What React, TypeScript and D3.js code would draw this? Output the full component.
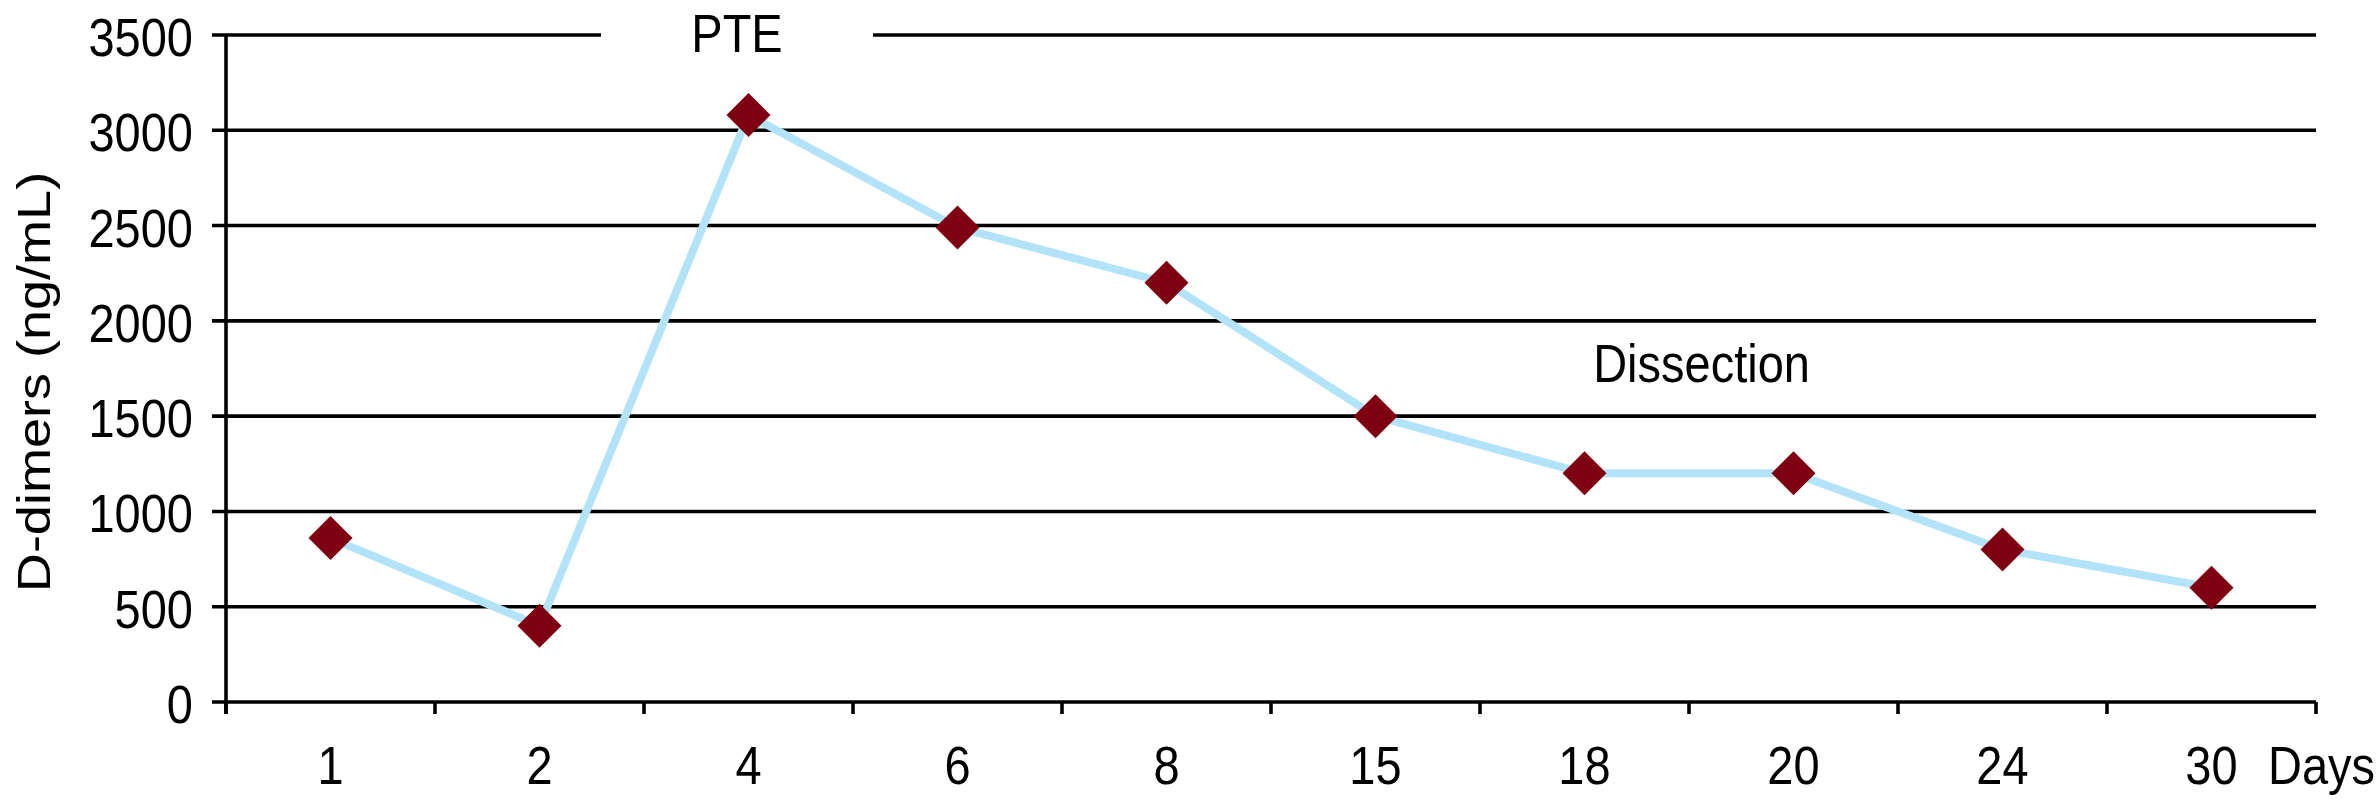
import React from "react";
import * as d3 from "d3";

const categories = ["1", "2", "4", "6", "8", "15", "18", "20", "24", "30"];
const dDimers = [860, 400, 3080, 2490, 2200, 1500, 1200, 1200, 800, 600];
const yTicks = [0, 500, 1000, 1500, 2000, 2500, 3000, 3500];
const yTitle = "D-dimers (ng/mL)";
const xUnit = "Days";
const annotations = [
  { text: "PTE", cat: "4", value: 3500, dx: -0.055 },
  { text: "Dissection", cat: "18", value: 1770, dx: 0.56 },
];

const W = 2377;
const H = 802;
const left = 226;
const right = 2316;
const top = 35;
const bottom = 702;
const FONT = "'Liberation Sans', Arial, Helvetica, sans-serif";
const FS = 47;
const SY = 1.15;

export default function App() {
  const x = d3.scaleBand<string>().domain(categories).range([left, right]).padding(0);
  const y = d3.scaleLinear().domain([0, 3500]).range([bottom, top]);
  const cx = (c: string) => (x(c) as number) + x.bandwidth() / 2;

  const line = d3
    .line<number>()
    .x((_, i) => cx(categories[i]))
    .y((d) => y(d));

  const r = 22;
  const diamond = d3.symbol().type(d3.symbolDiamond2).size(Math.pow(r / 0.62625, 2))();

  const boundaries = d3.range(categories.length + 1).map((i) => left + i * x.bandwidth());

  const pte = annotations[0];
  const pteX = cx(pte.cat) + pte.dx * x.bandwidth();
  const gapHalf = 136;

  const txt = (
    key: string,
    tx: number,
    ty: number,
    s: string,
    anchor: "start" | "middle" | "end",
    rotate = false
  ) => (
    <text
      key={key}
      transform={`translate(${tx},${ty}) scale(1,${SY})${rotate ? " rotate(-90)" : ""}`}
      textAnchor={anchor}
      fontFamily={FONT}
      fontSize={FS}
      fill="#000"
    >
      {s}
    </text>
  );

  return (
    <svg
      width={W}
      height={H}
      style={{ position: "absolute", left: 0, top: 0, background: "#fff" }}
    >
      <rect x={0} y={0} width={W} height={H} fill="#fff" />
      {yTicks.map((t) =>
        t === 3500 ? (
          <g key={t}>
            <line x1={left - 14} x2={pteX - gapHalf} y1={y(t)} y2={y(t)} stroke="#000" strokeWidth={3.6} />
            <line x1={pteX + gapHalf} x2={right} y1={y(t)} y2={y(t)} stroke="#000" strokeWidth={3.6} />
          </g>
        ) : (
          <line key={t} x1={left - 14} x2={right} y1={y(t)} y2={y(t)} stroke="#000" strokeWidth={3.6} />
        )
      )}
      <line x1={left} x2={left} y1={y(3500)} y2={bottom + 12} stroke="#000" strokeWidth={3.6} />
      {boundaries.map((b, i) => (
        <line key={i} x1={b} x2={b} y1={bottom} y2={bottom + 12} stroke="#000" strokeWidth={3.6} />
      ))}
      {yTicks.map((t) => txt("y" + t, left - 33, y(t) + 21, String(t), "end"))}
      {categories.map((c) => txt("x" + c, cx(c), 784, c, "middle"))}
      {txt("unit", 2268, 784, xUnit, "start")}
      {txt("ytitle", 50, 382, yTitle, "middle", true)}
      <path d={line(dDimers) || ""} fill="none" stroke="#b3e3f8" strokeWidth={8} strokeLinejoin="round" />
      {dDimers.map((v, i) => (
        <path key={i} d={diamond || ""} transform={`translate(${cx(categories[i])},${y(v)})`} fill="#7f0010" />
      ))}
      {annotations.map((a) =>
        txt("a" + a.text, cx(a.cat) + a.dx * x.bandwidth(), y(a.value) + 17, a.text, "middle")
      )}
    </svg>
  );
}
